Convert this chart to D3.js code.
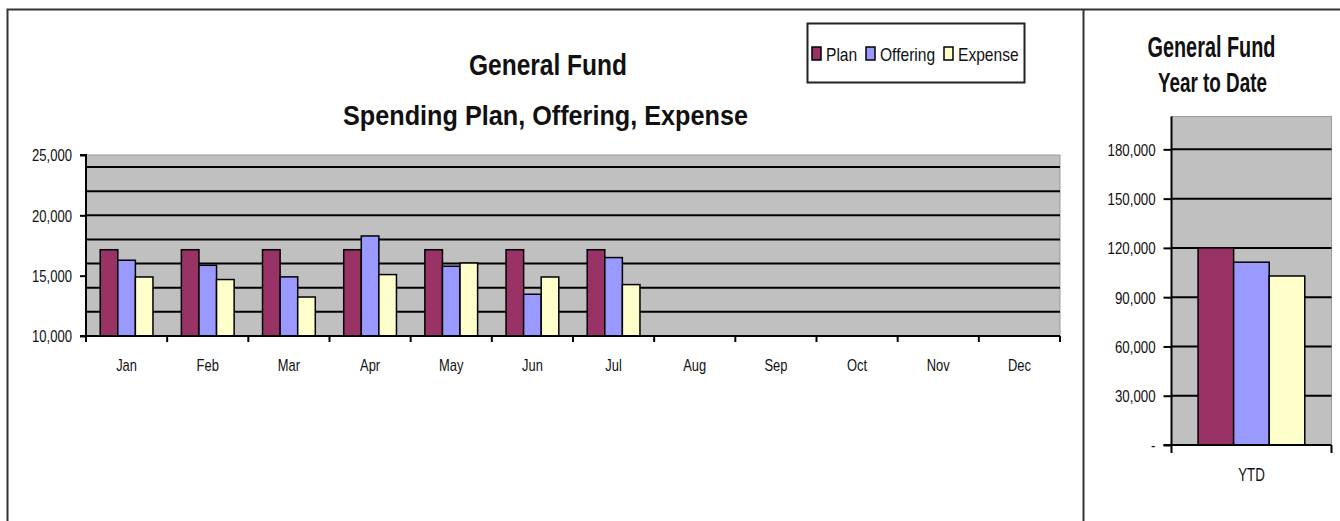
<!DOCTYPE html>
<html>
<head>
<meta charset="utf-8">
<script src="https://cdn.jsdelivr.net/npm/d3@7"></script>
<style>
  body { margin: 0; background: #fff; }
  svg text { font-family: "Liberation Sans Narrow", "Arial Narrow", "Liberation Sans", Arial, sans-serif; fill: #111; }
</style>
</head>
<body>
<div id="chart"></div>
<script>
// values
const months = ["Jan", "Feb", "Mar", "Apr", "May", "Jun", "Jul", "Aug", "Sep", "Oct", "Nov", "Dec"];
const seriesNames = ["Plan", "Offering", "Expense"];
const planValues = [17150, 17150, 17150, 17150, 17150, 17150, 17150];
const offeringValues = [16280, 15860, 14900, 18290, 15780, 13460, 16500];
const expenseValues = [14890, 14680, 13230, 15090, 16050, 14890, 14260];
const ytdCategory = ["YTD"];
const ytdValues = [120000, 111300, 102900];
const monthTicks = [10000, 15000, 20000, 25000];
const ytdTicks = [0, 30000, 60000, 90000, 120000, 150000, 180000];

const colors = { Plan: "#993366", Offering: "#9999ff", Expense: "#ffffcc" };

// no narrow font installed, so squeeze the text like Arial Narrow
function narrow(sel, f) {
    sel.each(function() {
        const w = this.getComputedTextLength();
        d3.select(this).attr("textLength", w * f).attr("lengthAdjust", "spacingAndGlyphs");
    });
}

const svg = d3.select("#chart").append("svg")
    .attr("width", 1340)
    .attr("height", 521);

// frame lines
svg.append("path")
    .attr("d", "M7.5,521 V9.5 H1340 M1083.5,9.5 V521")
    .attr("fill", "none")
    .attr("stroke", "#333")
    .attr("stroke-width", 2);

// ---------- monthly chart ----------
const plot = { left: 86, right: 1060, top: 155, bottom: 336 };

const x = d3.scaleBand()
    .domain(months)
    .range([plot.left, plot.right]);

const xSub = d3.scaleBand()
    .domain(seriesNames)
    .range([x.bandwidth() * 0.175, x.bandwidth() * 0.825]);

const y = d3.scaleLinear()
    .domain([10000, 25000])
    .range([plot.bottom, plot.top]);

svg.append("rect")
    .attr("x", plot.left).attr("y", plot.top)
    .attr("width", plot.right - plot.left).attr("height", plot.bottom - plot.top)
    .attr("fill", "#c0c0c0")
    .attr("stroke", "#9a9a9a");

// gridlines every 2,000
svg.append("g").selectAll("line")
    .data(d3.range(12000, 25000, 2000))
    .join("line")
    .attr("x1", plot.left).attr("x2", plot.right)
    .attr("y1", d => y(d)).attr("y2", d => y(d))
    .attr("stroke", "#000")
    .attr("stroke-width", 2);

const rows = months.slice(0, planValues.length).map((m, i) => ({
    month: m,
    values: [
        { key: "Plan", value: planValues[i] },
        { key: "Offering", value: offeringValues[i] },
        { key: "Expense", value: expenseValues[i] }
    ]
}));

svg.append("g").selectAll("g")
    .data(rows)
    .join("g")
    .attr("transform", d => `translate(${x(d.month)},0)`)
  .selectAll("rect")
    .data(d => d.values)
    .join("rect")
    .attr("x", d => xSub(d.key))
    .attr("width", xSub.bandwidth())
    .attr("y", d => y(d.value))
    .attr("height", d => y(10000) - y(d.value))
    .attr("fill", d => colors[d.key])
    .attr("stroke", "#000")
    .attr("stroke-width", 1.5);

// y axis
const yAxis = svg.append("g")
    .attr("transform", `translate(${plot.left},0)`)
    .call(d3.axisLeft(y).tickValues(monthTicks).tickFormat(d3.format(",")).tickSize(6).tickPadding(8));
yAxis.select(".domain").attr("stroke", "#000").attr("stroke-width", 2).attr("d", `M-6,${plot.top}H0V${plot.bottom}`);
yAxis.selectAll(".tick line").attr("stroke", "#000").attr("stroke-width", 2);
yAxis.selectAll("text").style("font-size", "17px").attr("dy", "0.35em").call(narrow, 0.77);

// x axis
svg.append("line")
    .attr("x1", plot.left - 6).attr("x2", plot.right)
    .attr("y1", plot.bottom).attr("y2", plot.bottom)
    .attr("stroke", "#000").attr("stroke-width", 2);
svg.append("g").selectAll("line")
    .data(months.map(m => x(m)).concat([plot.right]))
    .join("line")
    .attr("x1", d => d).attr("x2", d => d)
    .attr("y1", plot.bottom).attr("y2", plot.bottom + 6)
    .attr("stroke", "#000").attr("stroke-width", 2);
svg.append("g").selectAll("text")
    .data(months)
    .join("text")
    .attr("x", d => x(d) + x.bandwidth() / 2)
    .attr("y", 370.5)
    .attr("text-anchor", "middle")
    .style("font-size", "17px")
    .text(d => d)
    .call(narrow, 0.76);

// titles
svg.append("text")
    .attr("x", 548).attr("y", 75)
    .attr("text-anchor", "middle")
    .attr("textLength", 158).attr("lengthAdjust", "spacingAndGlyphs")
    .style("font-size", "29px").style("font-weight", "bold")
    .text("General Fund");
svg.append("text")
    .attr("x", 545.5).attr("y", 124.5)
    .attr("text-anchor", "middle")
    .attr("textLength", 405).attr("lengthAdjust", "spacingAndGlyphs")
    .style("font-size", "28px").style("font-weight", "bold")
    .text("Spending Plan, Offering, Expense");

// legend
const legend = svg.append("g");
legend.append("rect")
    .attr("x", 807.5).attr("y", 23.5)
    .attr("width", 217).attr("height", 59)
    .attr("fill", "#fff")
    .attr("stroke", "#222").attr("stroke-width", 2);
const legendX = [812, 866, 944];
const legendItem = legend.selectAll("g.item")
    .data(seriesNames)
    .join("g")
    .attr("class", "item")
    .attr("transform", (d, i) => `translate(${legendX[i]},47)`);
legendItem.append("rect")
    .attr("width", 9).attr("height", 13)
    .attr("fill", d => colors[d])
    .attr("stroke", "#000").attr("stroke-width", 1.5);
legendItem.append("text")
    .attr("x", 14).attr("y", 13.5)
    .style("font-size", "19px")
    .text(d => d)
    .call(narrow, 0.82);

// ---------- year to date chart ----------
const plot2 = { left: 1171.5, right: 1331.5, top: 116.5, bottom: 445 };

const x2 = d3.scaleBand()
    .domain(ytdCategory)
    .range([plot2.left, plot2.right]);

const x2Sub = d3.scaleBand()
    .domain(seriesNames)
    .range([x2.bandwidth() * 0.166, x2.bandwidth() * 0.833]);

const y2 = d3.scaleLinear()
    .domain([0, 200000])
    .range([plot2.bottom, plot2.top]);

svg.append("rect")
    .attr("x", plot2.left).attr("y", plot2.top)
    .attr("width", plot2.right - plot2.left).attr("height", plot2.bottom - plot2.top)
    .attr("fill", "#c0c0c0")
    .attr("stroke", "#9a9a9a");

svg.append("g").selectAll("line")
    .data(ytdTicks.slice(1))
    .join("line")
    .attr("x1", plot2.left).attr("x2", plot2.right)
    .attr("y1", d => y2(d)).attr("y2", d => y2(d))
    .attr("stroke", "#000")
    .attr("stroke-width", 2);

svg.append("g")
    .attr("transform", `translate(${x2("YTD")},0)`)
  .selectAll("rect")
    .data(seriesNames.map((k, i) => ({ key: k, value: ytdValues[i] })))
    .join("rect")
    .attr("x", d => x2Sub(d.key))
    .attr("width", x2Sub.bandwidth())
    .attr("y", d => y2(d.value))
    .attr("height", d => y2(0) - y2(d.value))
    .attr("fill", d => colors[d.key])
    .attr("stroke", "#000")
    .attr("stroke-width", 1.5);

const y2Axis = svg.append("g")
    .attr("transform", `translate(${plot2.left},0)`)
    .call(d3.axisLeft(y2).tickValues(ytdTicks)
        .tickFormat(d => d === 0 ? "-" : d3.format(",")(d))
        .tickSize(8).tickPadding(8));
y2Axis.select(".domain").attr("stroke", "#000").attr("stroke-width", 2).attr("d", `M0,${plot2.top}V${plot2.bottom}`);
y2Axis.selectAll(".tick line").attr("stroke", "#000").attr("stroke-width", 2);
y2Axis.selectAll("text").style("font-size", "17px").attr("dy", "0.35em").call(narrow, 0.78);

svg.append("line")
    .attr("x1", plot2.left - 8).attr("x2", plot2.right)
    .attr("y1", plot2.bottom).attr("y2", plot2.bottom)
    .attr("stroke", "#000").attr("stroke-width", 2);
svg.append("g").selectAll("line")
    .data([plot2.left, plot2.right])
    .join("line")
    .attr("x1", d => d).attr("x2", d => d)
    .attr("y1", plot2.bottom).attr("y2", plot2.bottom + 8)
    .attr("stroke", "#000").attr("stroke-width", 2);
svg.append("text")
    .attr("x", x2("YTD") + x2.bandwidth() / 2)
    .attr("y", 481)
    .attr("text-anchor", "middle")
    .style("font-size", "18px")
    .text("YTD")
    .call(narrow, 0.74);

svg.append("text")
    .attr("x", 1211.5).attr("y", 57)
    .attr("text-anchor", "middle")
    .attr("textLength", 128).attr("lengthAdjust", "spacingAndGlyphs")
    .style("font-size", "29px").style("font-weight", "bold")
    .text("General Fund");
svg.append("text")
    .attr("x", 1212.5).attr("y", 92)
    .attr("text-anchor", "middle")
    .attr("textLength", 109).attr("lengthAdjust", "spacingAndGlyphs")
    .style("font-size", "28px").style("font-weight", "bold")
    .text("Year to Date");
</script>
</body>
</html>
